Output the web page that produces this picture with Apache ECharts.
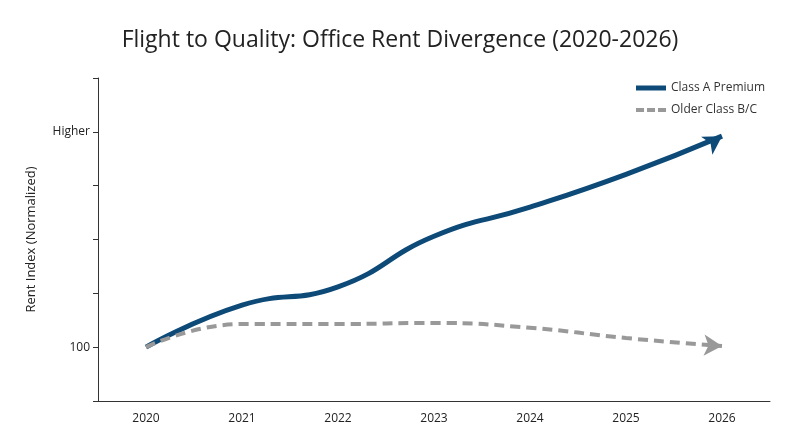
<!DOCTYPE html>
<html>
<head>
<meta charset="utf-8">
<script src="https://cdn.jsdelivr.net/npm/echarts@6/dist/echarts.min.js"></script>
<style>html,body{margin:0;padding:0;background:#fff}#chart{width:800px;height:447px}</style>
</head>
<body>
<div id="chart"></div>
<script>
const years = ["2020", "2021", "2022", "2023", "2024", "2025", "2026"];
const classA = [100, 107.8, 111.2, 120.6, 126, 132.1, 139.2];
const olderBC = [100, 104.3, 104.3, 104.5, 103.6, 101.7, 100.2];
const yLabels = { 100: "100", 140: "Higher" };

const withArrow = (arr, rot) =>
  arr.map((v, i) =>
    i === arr.length - 1
      ? { value: v, symbol: "arrow", symbolSize: [16, 18], symbolRotate: rot }
      : { value: v, symbol: "none" }
  );

const chart = echarts.init(document.getElementById("chart"));
chart.setOption({
  animation: false,
  textStyle: { fontFamily: "Open Sans" },
  title: {
    text: "Flight to Quality: Office Rent Divergence (2020-2026)",
    left: "center",
    top: 24,
    textStyle: { fontSize: 23, fontWeight: "normal", color: "#222" },
  },
  legend: {
    orient: "vertical",
    right: 30,
    top: 77,
    itemWidth: 30,
    itemHeight: 5,
    itemGap: 10,
    textStyle: { fontSize: 12, color: "#333" },
    data: [
      { name: "Class A Premium", icon: "rect" },
      { name: "Older Class B/C", icon: "path://M0,0h8v4h-8z M11,0h8v4h-8z M22,0h8v4h-8z" },
    ],
  },
  grid: { left: 98, right: 30, top: 78, bottom: 46 },
  xAxis: {
    type: "category",
    data: years,
    boundaryGap: true,
    axisLine: { lineStyle: { color: "#333" } },
    axisTick: { alignWithLabel: true, lineStyle: { color: "#333" } },
    axisLabel: { color: "#222", fontSize: 12, margin: 12 },
  },
  yAxis: {
    type: "value",
    min: 90,
    max: 150,
    interval: 10,
    name: "Rent Index (Normalized)",
    nameLocation: "middle",
    nameGap: 60,
    nameTextStyle: { fontSize: 13, color: "#222" },
    axisLine: { show: true, lineStyle: { color: "#333" } },
    axisTick: { show: true, lineStyle: { color: "#333" } },
    splitLine: { show: false },
    axisLabel: {
      color: "#222",
      fontSize: 12,
      formatter: (v) => yLabels[v] || "",
    },
  },
  series: [
    {
      name: "Class A Premium",
      type: "line",
      smooth: true,
      data: withArrow(classA, -58),
      lineStyle: { width: 5, color: "#0d4a78" },
      itemStyle: { color: "#0d4a78" },
    },
    {
      name: "Older Class B/C",
      type: "line",
      smooth: true,
      data: withArrow(olderBC, -93),
      lineStyle: { width: 4, color: "#999", type: [10, 6] },
      itemStyle: { color: "#999" },
    },
  ],
});
</script>
</body>
</html>
